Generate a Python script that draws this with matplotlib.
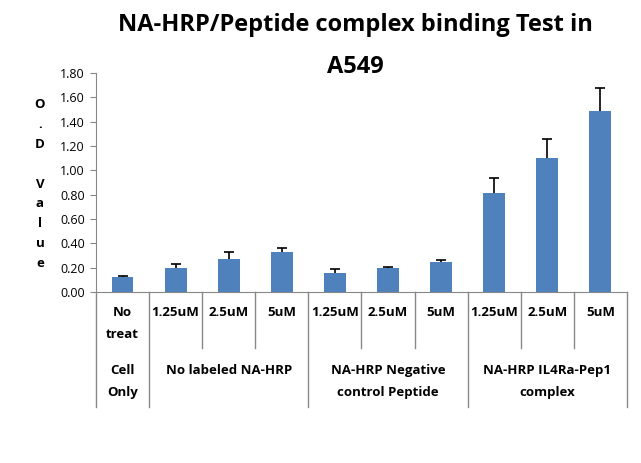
import matplotlib
matplotlib.use("Agg")
import matplotlib.pyplot as plt

plt.rcParams["font.family"] = ["Open Sans", "DejaVu Sans"]

# data
conc_labels = ["No\ntreat", "1.25uM", "2.5uM", "5uM", "1.25uM", "2.5uM", "5uM",
               "1.25uM", "2.5uM", "5uM"]
group_labels = ["Cell\nOnly", "No labeled NA-HRP", "NA-HRP Negative\ncontrol Peptide",
                "NA-HRP IL4Ra-Pep1\ncomplex"]
group_sizes = [1, 3, 3, 3]
od_values = [0.12, 0.20, 0.27, 0.33, 0.16, 0.195, 0.245, 0.81, 1.105, 1.485]
od_errors = [0.01, 0.03, 0.06, 0.03, 0.03, 0.01, 0.015, 0.125, 0.155, 0.19]
y_ticks = [0.0, 0.2, 0.4, 0.6, 0.8, 1.0, 1.2, 1.4, 1.6, 1.8]

fig = plt.figure(figsize=(6.41, 4.63), dpi=100)
ax = fig.add_axes([0.1498, 0.3693, 0.8282, 0.473])

x = list(range(len(od_values)))
tops = [v + e for v, e in zip(od_values, od_errors)]
ax.bar(x, od_values, width=0.41, color="#4F81BD", zorder=2)
# upper error bars only, cap on top
ax.vlines(x, od_values, tops, color="black", lw=1.2, zorder=3)
ax.plot(x, tops, linestyle="none", marker="_", markersize=7, mew=1.2, color="black", zorder=3)

ax.set_xlim(-0.5, len(x) - 0.5)
ax.set_ylim(0, 1.8)
ax.set_yticks(y_ticks)
ax.set_yticklabels([f"{v:.2f}" for v in y_ticks], fontsize=9)
ax.set_xticks([])
ax.tick_params(axis="y", length=4, color="#888888", pad=4)
for side in ["top", "right"]:
    ax.spines[side].set_visible(False)
for side in ["left", "bottom"]:
    ax.spines[side].set_color("#888888")

# category table under the axis
trans = ax.get_xaxis_transform()
for i, lab in enumerate(conc_labels):
    ax.text(i, -0.065, lab, transform=trans, ha="center", va="top",
            fontsize=9.5, fontweight="bold", linespacing=1.9)

edges = [-0.5]
for n in group_sizes:
    edges.append(edges[-1] + n)
for k in range(len(x) + 1):
    b = k - 0.5
    low = -0.524 if b in edges else -0.256
    ax.plot([b, b], [0, low], transform=trans, color="#888888", lw=1, clip_on=False)

for g, lab in enumerate(group_labels):
    mid = (edges[g] + edges[g + 1]) / 2
    ax.text(mid, -0.33, lab, transform=trans, ha="center", va="top",
            fontsize=9.5, fontweight="bold", linespacing=1.9)

fig.text(0.555, 0.9006, "NA-HRP/Peptide complex binding Test in\nA549",
         ha="center", va="center", fontsize=17, fontweight="bold", linespacing=1.95)

fig.text(0.0624, 1 - 184 / 463, "O\n.\nD\n\nV\na\nl\nu\ne", ha="center", va="center",
         fontsize=9.5, fontweight="bold", linespacing=1.68)

fig.savefig("out.png", dpi=100)
